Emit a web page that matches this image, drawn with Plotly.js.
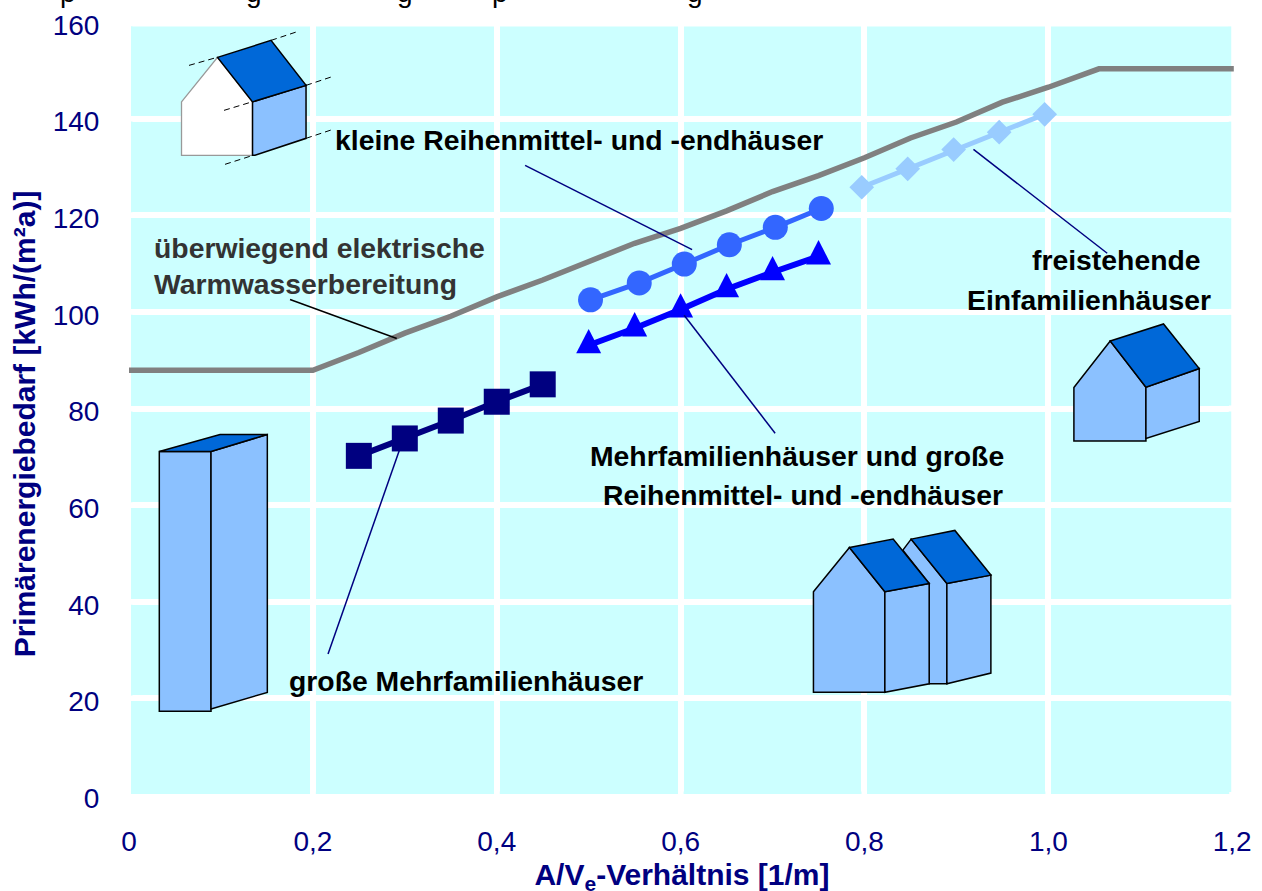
<!DOCTYPE html>
<html>
<head>
<meta charset="utf-8">
<script src="https://cdn.plot.ly/plotly-3.0.1.min.js"></script>
<style>html,body{margin:0;padding:0;background:#fff}#c{width:1262px;height:891px}</style>
</head>
<body>
<div id="c"></div>
<script>
// ---- data ----
const grayX = [0, 0.2, 0.25, 0.3, 0.35, 0.4, 0.45, 0.5, 0.55, 0.6, 0.65, 0.7, 0.75, 0.8, 0.85, 0.9, 0.95, 1.0, 1.055, 1.2017];
const grayY = [87.9, 87.9, 91.6, 95.6, 99.1, 103.1, 106.6, 110.3, 114.2, 117.3, 120.9, 124.9, 128.2, 131.9, 136, 139.3, 143.4, 146.5, 150.3, 150.3];
const grossMfhX = [0.25, 0.3, 0.35, 0.4, 0.45];
const grossMfhY = [70.2, 73.8, 77.5, 81.4, 85.0];
const mfhX = [0.5, 0.55, 0.6, 0.65, 0.7, 0.75];
const mfhY = [93.1, 96.6, 100.5, 104.7, 108.2, 111.5];
const kleinX = [0.502, 0.555, 0.604, 0.653, 0.703, 0.753];
const kleinY = [102.5, 106, 109.9, 113.9, 117.5, 121.4];
const efhX = [0.797, 0.847, 0.897, 0.9465, 0.996];
const efhY = [125.8, 129.6, 133.6, 137.2, 140.9];
const xTickVals = [0, 0.2, 0.4, 0.6, 0.8, 1.0, 1.2];
const xTickText = ["0", "0,2", "0,4", "0,6", "0,8", "1,0", "1,2"];
const yTickVals = [0, 20, 40, 60, 80, 100, 120, 140, 160];

// ---- page geometry ----
const W = 1262, H = 891, L = 129, T = 21.6, B = 795;
const XPP = 919.17, YPP = 4.8338, XMAX = 1.203;
const R = L + XMAX * XPP;
const px = x => (x - L) / (R - L);
const py = y => (B - y) / (B - T);
const dx = x => (x - L) / XPP;
const dy = y => (B - y) / YPP;
const FONT = "Liberation Sans";
const NAVY = "#000080", ROOF = "#0068D8", WALL = "#8BC1FF", CYAN = "#CCFFFF";

function poly(points, fill, lineColor, width) {
  const d = points.map((p, i) => (i ? "L" : "M") + px(p[0]).toFixed(5) + "," + py(p[1]).toFixed(5)).join(" ") + " Z";
  return {type: "path", xref: "paper", yref: "paper", path: d, fillcolor: fill, line: {color: lineColor || "#000", width: width === undefined ? 1.5 : width}, layer: "above"};
}
function seg(x0, y0, x1, y1, color, width, dash) {
  return {type: "line", xref: "paper", yref: "paper", x0: px(x0), y0: py(y0), x1: px(x1), y1: py(y1),
    line: {color: color, width: width, dash: dash || "solid"}, layer: "above"};
}
function label(text, x, y, anchor, color) {
  return {xref: "paper", yref: "paper", x: px(x), y: py(y), text: "<b>" + text + "</b>", showarrow: false,
    xanchor: anchor, yanchor: "middle", font: {family: FONT, size: 28.35, color: color || "#000"}};
}
function sliver(x0, x1, y0, y1) {
  return {type: "rect", xref: "x", yref: "y", x0: dx(x0), x1: dx(x1), y0: dy(y0), y1: dy(y1), fillcolor: CYAN, line: {width: 0}, layer: "between"};
}

const shapes = [
  {type: "rect", xref: "x", yref: "y", x0: dx(131), x1: dx(1231), y0: dy(794), y1: dy(26), fillcolor: CYAN, line: {width: 0}, layer: "below"},
  // house top left
  poly([[181.5,101.5],[217.5,57],[252.5,101.5],[252.5,155],[181.5,155]], "#FFFFFF", "#999999", 1.3),
  poly([[252.5,101.5],[306,85],[306,138],[255,155],[252.5,155]], WALL),
  poly([[217.5,57],[271,40],[306,85],[252.5,101.5]], ROOF),
  seg(189,65,217,57,"#000",1,"6px,4px"), seg(271,40,298,31,"#000",1,"6px,4px"),
  seg(306,85,333,76,"#000",1,"6px,4px"), seg(224,110,252,101.5,"#000",1,"6px,4px"),
  seg(306,138,333,129,"#000",1,"6px,4px"), seg(225,164,253,155,"#000",1,"6px,4px"),
  // tall block
  poly([[159.3,451.3],[211,451.3],[211,711.3],[159.3,711.3]], WALL),
  poly([[211,451.3],[267.3,434.3],[267.3,692.3],[211,709]], WALL),
  poly([[159.3,451.3],[220,434.3],[267.3,434.3],[211,451.3]], ROOF),
  // detached house right
  poly([[1073.7,387.3],[1110,340.7],[1145.7,387],[1145.7,440.7],[1073.7,440.7]], WALL),
  poly([[1145.7,387],[1199,368.3],[1199,421.3],[1145.7,438.3]], WALL),
  poly([[1110,340.7],[1163.3,323.7],[1199,368.3],[1145.7,387]], ROOF),
  // terraced pair
  poly([[902.7,550],[911,539],[946.7,583.3],[946.7,683.7],[929,683.7],[929,583.3]], WALL),
  poly([[946.7,583.3],[990.7,575],[990.7,673],[946.7,683.7]], WALL),
  poly([[911,539],[954.7,530.3],[990.7,575],[946.7,583.3]], ROOF),
  poly([[813.3,591.7],[849.3,547.3],[884.7,591.7],[884.7,692.3],[813.3,692.3]], WALL),
  poly([[884.7,591.7],[929,583.3],[929,683.7],[884.7,692.3]], WALL),
  poly([[849.3,547.3],[893,539],[929,583.3],[884.7,591.7]], ROOF),
  // leader lines
  seg(525,165,692,249.3,NAVY,1.5),
  seg(290,299.3,396.7,338.3,"#000",1.5),
  seg(684,315,775,433,NAVY,1.5),
  seg(399.3,450,328,654,NAVY,1.5),
  seg(973.3,149,1107,253,NAVY,1.5)
];
// the outermost white grid lines are wider than the reference's margin: restore the cyan edge between grid crossings
for (let i = 0; i < yTickVals.length - 1; i++) {
  const lo = B - yTickVals[i] * YPP - 3, hi = Math.max(B - yTickVals[i + 1] * YPP + 3, 26);
  shapes.push(sliver(1228.5, 1231, lo, hi), sliver(131, 132.5, lo, hi));
}
for (let i = 0; i < xTickVals.length - 1; i++) {
  const a = L + xTickVals[i] * XPP + 3, b = L + xTickVals[i + 1] * XPP - 3;
  shapes.push(sliver(a, b, 794, 791.5));
}

const annotations = [
  label("kleine Reihenmittel- und -endhäuser", 333, 140, "left"),
  label("überwiegend elektrische", 152, 248, "left", "#333333"),
  label("Warmwasserbereitung", 152, 284, "left", "#333333"),
  label("freistehende", 1203, 260, "right"),
  label("Einfamilienhäuser", 1212.5, 300, "right"),
  label("Mehrfamilienhäuser und große", 1006, 456, "right"),
  label("Reihenmittel- und -endhäuser", 1005, 495, "right"),
  label("große Mehrfamilienhäuser", 287, 681, "left")
];
// descenders of the cropped line above the chart: only these letters can be seen
[["p",68],["g",254],["g",405],["p",500],["g",695]].forEach(c => annotations.push({
  xref: "paper", yref: "paper", x: px(c[1]), y: py(-8), text: c[0], showarrow: false,
  xanchor: "center", yanchor: "middle", font: {family: FONT, size: 28, color: "#000"}
}));

function series(name, x, y, color, lw, symbol, size) {
  const t = {type: "scatter", mode: symbol ? "lines+markers" : "lines", name, x, y, cliponaxis: false,
    line: {color, width: lw, shape: "linear"}, hoverinfo: "x+y"};
  if (symbol) t.marker = {symbol, size, color, line: {width: 0}};
  return t;
}
const traces = [
  series("überwiegend elektrische Warmwasserbereitung", grayX, grayY, "#808080", 5.5),
  series("große Mehrfamilienhäuser", grossMfhX, grossMfhY, "#000080", 6, "square", 26),
  series("Mehrfamilienhäuser und große Reihenmittel- und -endhäuser", mfhX, mfhY, "#0000FF", 6, "triangle-up", 24),
  series("kleine Reihenmittel- und -endhäuser", kleinX, kleinY, "#3366FF", 5, "circle", 25),
  series("freistehende Einfamilienhäuser", efhX, efhY, "#99CCFF", 5, "diamond", 19)
];

const layout = {
  width: W, height: H, showlegend: false,
  paper_bgcolor: "#FFFFFF", plot_bgcolor: "#FFFFFF",
  margin: {l: L, r: W - R, t: T, b: H - B, pad: 0},
  font: {family: FONT, color: NAVY},
  xaxis: {
    range: [0, XMAX], tickmode: "array", tickvals: xTickVals, ticktext: xTickText,
    showgrid: true, gridcolor: "#FFFFFF", gridwidth: 6, zeroline: false, showline: false,
    ticks: "outside", ticklen: 21, tickcolor: "rgba(0,0,0,0)", tickfont: {family: FONT, size: 28, color: NAVY},
    title: {text: "<b>A/V<sub>e</sub>-Verhältnis [1/m]</b>", font: {family: FONT, size: 30, color: NAVY}, standoff: 11}
  },
  yaxis: {
    range: [0, 160], tickmode: "array", tickvals: yTickVals,
    showgrid: true, gridcolor: "#FFFFFF", gridwidth: 6, zeroline: false, showline: false,
    ticks: "outside", ticklen: 23, tickcolor: "rgba(0,0,0,0)", tickfont: {family: FONT, size: 28, color: NAVY},
    title: {text: "<b>Primärenergiebedarf [kWh/(m²a)]</b>", font: {family: FONT, size: 30, color: NAVY}, standoff: 8}
  },
  shapes, annotations
};
Plotly.newPlot("c", traces, layout, {displayModeBar: false, staticPlot: true}).then(() => {
  // plotly's triangle is wider than the reference's: narrow and heighten it about its own anchor
  const groups = document.querySelectorAll(".scatterlayer .trace");
  groups[2].querySelectorAll(".points path").forEach(p => {
    p.setAttribute("transform", p.getAttribute("transform") + " scale(0.9,1.35)");
  });
  // the reference's axis titles and y labels sit slightly off plotly's default places
  const yt = document.querySelector(".ytitle");
  yt.setAttribute("transform", "translate(0,15.5) " + (yt.getAttribute("transform") || ""));
  const xt = document.querySelector(".xtitle");
  xt.setAttribute("transform", "translate(0,4.5) " + (xt.getAttribute("transform") || ""));
  document.querySelectorAll(".ytick text").forEach(t => {
    t.setAttribute("transform", "translate(0,3) " + (t.getAttribute("transform") || ""));
  });
});
</script>
</body>
</html>
